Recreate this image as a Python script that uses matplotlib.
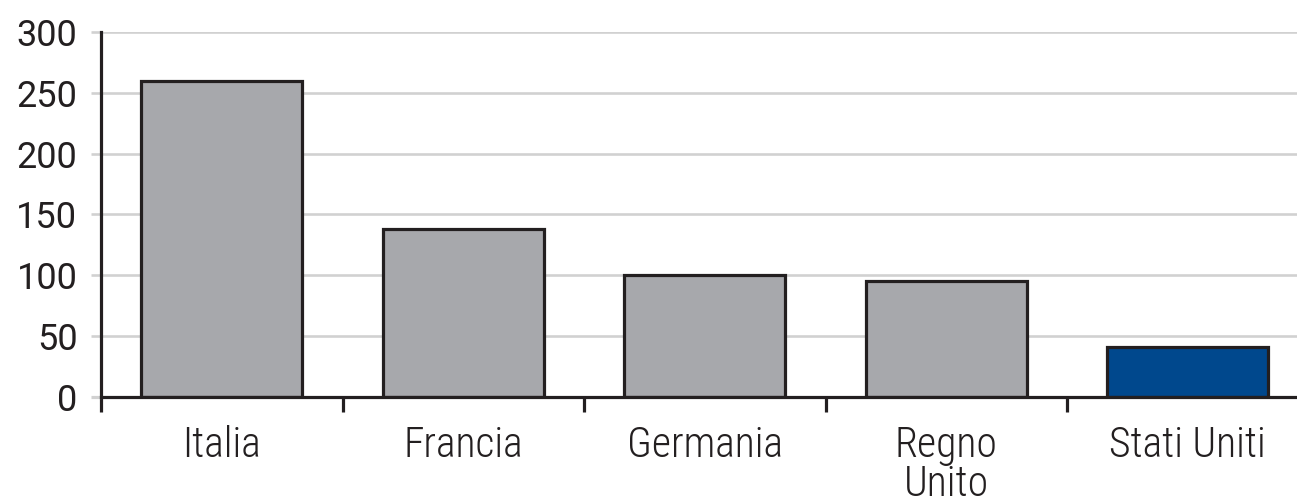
import matplotlib
matplotlib.use("Agg")
import matplotlib.pyplot as plt
from matplotlib import font_manager

categories = ["Italia", "Francia", "Germania", "Regno\nUnito", "Stati Uniti"]
values = [260, 138, 100, 95, 41]
bar_colors = ["#a7a8ac", "#a7a8ac", "#a7a8ac", "#a7a8ac", "#00488d"]
yticks = [0, 50, 100, 150, 200, 250, 300]

names = {f.name for f in font_manager.fontManager.ttflist}
xfont = ["Roboto Condensed", "DejaVu Sans"] if "Roboto Condensed" in names else ["DejaVu Sans"]
yfont = ["Roboto", "DejaVu Sans"]

DARK = "#231f20"
GRID = "#d1d1d1"

fig = plt.figure(figsize=(12.97, 5.0), dpi=100)
ax = fig.add_axes([101/1297, 103/500, 1196/1297, 365/500])

x = list(range(len(categories)))
ax.bar(x, values, width=0.667, color=bar_colors, edgecolor=DARK, linewidth=2.3, zorder=3)

ax.set_yticks(yticks)
ax.set_yticklabels([str(v) for v in yticks], fontfamily=yfont, fontsize=26, color=DARK)
ax.yaxis.grid(True, color=GRID, linewidth=1.9, zorder=0)
ax.set_axisbelow(True)
ax.tick_params(axis="y", length=7, width=1.9, color=GRID, pad=10)
ax.yaxis.get_major_ticks()[0].tick1line.set_color(DARK)
ax.yaxis.get_major_ticks()[0].tick1line.set_markeredgewidth(2.3)

ax.set_xticks([i - 0.5 for i in range(len(categories) + 1)])
ax.set_xticklabels([])
ax.tick_params(axis="x", which="major", length=11, width=2.3, color=DARK)
ax.set_xticks(x, minor=True)
ax.set_xticklabels(categories, minor=True, fontfamily=xfont, fontsize=30,
                   fontweight="light", color=DARK, linespacing=0.95)
ax.tick_params(axis="x", which="minor", length=0, pad=20)

ax.set_ylim(0, 300)
ax.set_xlim(-0.5, 4.452)

for s in ["top", "right"]:
    ax.spines[s].set_visible(False)
ax.spines["left"].set_color(DARK)
ax.spines["left"].set_linewidth(2.3)
ax.spines["bottom"].set_color(DARK)
ax.spines["bottom"].set_linewidth(2.3)
ax.spines["bottom"].set_zorder(4)

fig.savefig("out.png", dpi=100)
